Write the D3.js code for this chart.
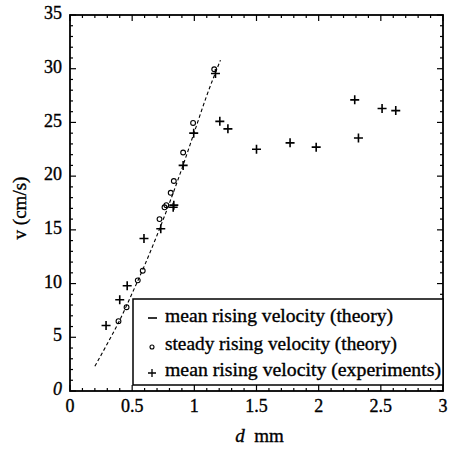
<!DOCTYPE html>
<html><head><meta charset="utf-8">
<script src="https://cdn.jsdelivr.net/npm/d3@7"></script>
<style>body{margin:0;background:#fff}svg{display:block}</style>
</head><body>
<script>
// Data
const theoryLineD = [0.2,0.3,0.4,0.5,0.6,0.7,0.8,0.9,1.0,1.1,1.21];
const theoryLineV = [2.3,4.4,6.6,9.1,11.7,14.5,17.5,20.7,24.1,27.5,30.8];
const steadyD = [0.39,0.455,0.545,0.585,0.72,0.76,0.775,0.81,0.835,0.91,0.99,1.16];
const steadyV = [6.5,7.8,10.3,11.2,16.0,17.1,17.3,18.45,19.55,22.2,24.95,29.95];
const expD = [0.29,0.40,0.46,0.595,0.73,0.83,0.835,0.91,0.995,1.17,1.205,1.27,1.50,1.77,1.98,2.29,2.32,2.51,2.62];
const expV = [6.1,8.5,9.8,14.2,15.1,17.1,17.3,21.0,24.0,29.55,25.1,24.4,22.5,23.1,22.7,27.1,23.55,26.3,26.1];
const xTicks = [0,0.5,1,1.5,2,2.5,3];
const xTickLabels = ["0","0.5","1","1.5","2","2.5","3"];
const yTicks = [0,5,10,15,20,25,30,35];
const yTickLabels = ["0","5","10","15","20","25","30","35"];
const legendLabels = ["mean rising velocity (theory)","steady rising velocity (theory)","mean rising velocity (experiments)"];

const W=449,H=450;
const L=70,R=443,T=15,B=391;
const svg=d3.select("body").append("svg").attr("width",W).attr("height",H);
const x=d3.scaleLinear().domain([0,3]).range([L,R]);
const y=d3.scaleLinear().domain([0,35]).range([B,T]);
const font="Liberation Serif";

// minor ticks
const xMinor=d3.range(0,3.0001,0.1);
const yMinor=d3.range(0,35.0001,1);
const g=svg.append("g").attr("stroke","#000").attr("fill","none");
xMinor.forEach(v=>{
  const major=Math.abs(v*2-Math.round(v*2))<1e-6;
  const len=major?6:3;
  g.append("line").attr("x1",x(v)).attr("x2",x(v)).attr("y1",B).attr("y2",B-len).attr("stroke-width",1.2);
  g.append("line").attr("x1",x(v)).attr("x2",x(v)).attr("y1",T).attr("y2",T+len).attr("stroke-width",1.2);
});
yMinor.forEach(v=>{
  const major=v%5===0;
  const len=major?6:3;
  g.append("line").attr("y1",y(v)).attr("y2",y(v)).attr("x1",L).attr("x2",L+len).attr("stroke-width",1.2);
  g.append("line").attr("y1",y(v)).attr("y2",y(v)).attr("x1",R).attr("x2",R-len).attr("stroke-width",1.2);
});
g.append("rect").attr("x",L).attr("y",T).attr("width",R-L).attr("height",B-T).attr("stroke-width",1.8);

function txt(sel){return sel.style("font-family",font).attr("fill","#000").attr("stroke","#000").attr("stroke-width",0.35);}

// tick labels
txt(svg.append("g").selectAll("text").data(xTicks).join("text")
  .attr("x",d=>x(d)).attr("y",B+17).attr("text-anchor","middle")
  .attr("font-size",18).attr("dominant-baseline","middle")
  .text((d,i)=>xTickLabels[i]));
txt(svg.append("g").selectAll("text").data(yTicks).join("text")
  .attr("x",L-8).attr("y",d=>y(d)).attr("text-anchor","end")
  .attr("font-size",18).attr("dominant-baseline","middle")
  .attr("font-style",d=>d===0?"italic":"normal")
  .text((d,i)=>yTickLabels[i]));

// axis titles
const xt=txt(svg.append("text").attr("x",(L+R)/2+3).attr("y",438).attr("text-anchor","middle")
  .attr("font-size",19).attr("dominant-baseline","middle"));
xt.append("tspan").attr("font-style","italic").text("d");
xt.append("tspan").text("\u00a0 mm");
txt(svg.append("text").attr("transform","translate(22,"+((T+B)/2+5)+") rotate(-90)")
  .attr("text-anchor","middle").attr("font-size",19)
  .attr("dominant-baseline","middle").text("v (cm/s)"));

// theory line
const line=d3.line().x(d=>x(d[0])).y(d=>y(d[1])).curve(d3.curveMonotoneX);
svg.append("path").datum(theoryLineD.map((d,i)=>[d,theoryLineV[i]]))
  .attr("d",line).attr("fill","none").attr("stroke","#000").attr("stroke-width",1.1)
  .attr("stroke-dasharray","3.5,2.5");

// steady circles
svg.append("g").selectAll("circle").data(steadyD.map((d,i)=>[d,steadyV[i]])).join("circle")
  .attr("cx",d=>x(d[0])).attr("cy",d=>y(d[1])).attr("r",2.4)
  .attr("fill","none").attr("stroke","#000").attr("stroke-width",1.1);

// experiment pluses
const ps=4.5;
svg.append("g").selectAll("path").data(expD.map((d,i)=>[d,expV[i]])).join("path")
  .attr("d",d=>{const cx=x(d[0]),cy=y(d[1]);return `M${cx-ps},${cy}H${cx+ps}M${cx},${cy-ps}V${cy+ps}`;})
  .attr("stroke","#000").attr("stroke-width",1.6).attr("fill","none");

// legend
const lg=svg.append("g");
lg.append("rect").attr("x",133).attr("y",299).attr("width",R-133).attr("height",86)
  .attr("fill","#fff").attr("stroke","#000").attr("stroke-width",1.5);
const rows=[318,346,372];
const legendEnds=[393,397,441];
lg.append("line").attr("x1",148).attr("x2",157).attr("y1",rows[0]).attr("y2",rows[0]).attr("stroke","#000").attr("stroke-width",1.6);
lg.append("circle").attr("cx",152).attr("cy",rows[1]+1).attr("r",2).attr("fill","none").attr("stroke","#000").attr("stroke-width",1.1);
lg.append("path").attr("d",`M${148},${rows[2]+1}H${156}M${152},${rows[2]-3}V${rows[2]+5}`).attr("stroke","#000").attr("stroke-width",1.3);
txt(lg.selectAll("text.l").data(legendLabels).join("text").attr("class","l")
  .attr("x",165).attr("y",(d,i)=>rows[i]).attr("font-size",19)
  .attr("textLength",(d,i)=>legendEnds[i]-165).attr("lengthAdjust","spacingAndGlyphs")
  .attr("dominant-baseline","middle").text(d=>d));
</script>
</body></html>
